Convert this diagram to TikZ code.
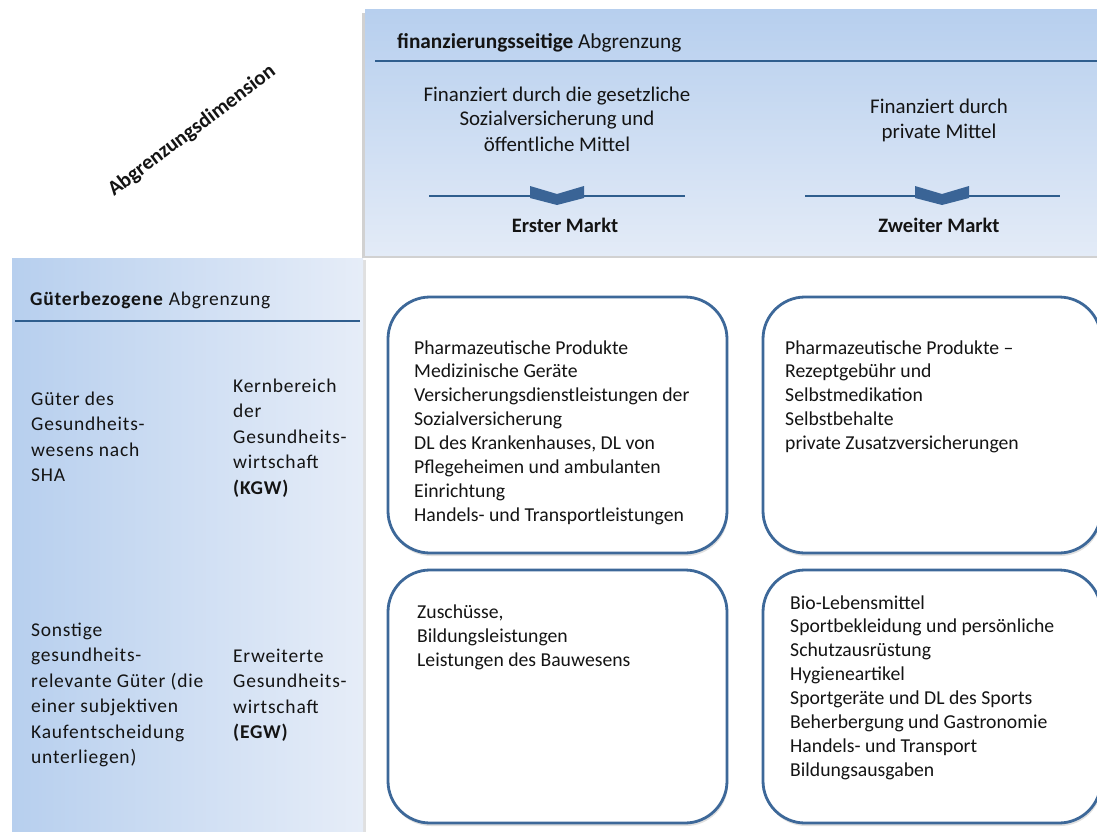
\documentclass[tikz,border=0pt]{standalone}
\usepackage{fontspec}
\setmainfont{Carlito}
\newfontfamily\widefont[LetterSpace=4]{Carlito}
\usetikzlibrary{shadows}
\definecolor{panelTop}{HTML}{B7CFEE}
\definecolor{panelBot}{HTML}{E3EBF7}
\definecolor{panelRight}{HTML}{E6EDF8}
\definecolor{lineblue}{HTML}{2F5E8E}
\definecolor{boxblue}{HTML}{3D6899}
\definecolor{chev}{HTML}{3A6496}
\definecolor{txt}{HTML}{141414}
\tikzset{
  boxtext/.style={anchor=base west, align=left, inner sep=0pt, text=txt,
    font=\fontsize{19.7}{23.9}\selectfont},
  toptext/.style={anchor=base, align=center, inner sep=0pt, text=txt,
    font=\fontsize{20.9}{25}\selectfont},
  lefttext/.style={anchor=base west, align=left, inner sep=0pt, text=txt,
    font=\widefont\fontsize{19.5}{25.5}\selectfont},
  roundbox/.style={draw=boxblue, line width=2.8pt, fill=white, rounded corners=42pt,
    drop shadow={shadow xshift=1pt, shadow yshift=-3pt, opacity=0.25}},
  hline/.style={draw=lineblue, line width=2pt},
  chevron/.style={fill=chev}
}
\begin{document}
\begin{tikzpicture}[x=1pt,y=-1pt]
\useasboundingbox (0,0) rectangle (1097,832);
\clip (0,0) rectangle (1097,832);
\fill[white] (0,0) rectangle (1097,832);

% top panel
\fill[black!18] (362,13) rectangle (1110,258);
\shade[top color=panelTop, bottom color=panelBot] (365,10) rectangle (1110,255);
\draw[hline] (375,61) -- (1110,61);
\node[anchor=base west, inner sep=0pt, text=txt, font=\fontsize{21.3}{24}\selectfont] (fhead) at (397,49) {\textbf{finanzierungsseitige} Abgrenzung};
\node[toptext] (fin1) at (557,151) {Finanziert durch die gesetzliche\\Sozialversicherung und\\öffentliche Mittel};
\node[toptext] (fin2) at (939,139) {Finanziert durch\\private Mittel};
\draw[lineblue, line width=1.2pt] (429,196) -- (685,196);
\draw[lineblue, line width=1.2pt] (805,196) -- (1060,196);
\fill[chevron] (530,186) -- (557,194) -- (584,186) -- (584,198) -- (557,205) -- (530,198) -- cycle;
\fill[chevron] (915,186) -- (942,194) -- (969,186) -- (969,198) -- (942,205) -- (915,198) -- cycle;
\node[toptext, font=\bfseries\fontsize{20.5}{25}\selectfont] (m1) at (565,232) {Erster Markt};
\node[toptext, font=\bfseries\fontsize{20.5}{25}\selectfont] (m2) at (939,232) {Zweiter Markt};

% diagonal label
\node[rotate=37, inner sep=0pt, text=txt, font=\bfseries\fontsize{21}{24}\selectfont] (dim) at (192,131) {Abgrenzungsdimension};

% left panel
\fill[black!12] (14,260) rectangle (366,840);
\shade[left color=panelTop, right color=panelRight] (12,258) rectangle (363,840);
\draw[hline] (15,321) -- (360,321);
\node[lefttext] (ghead) at (30,305) {\textbf{Güterbezogene} Abgrenzung};
\node[lefttext] (g1) at (31,481.5) {Güter des\\Gesundheits-\\wesens nach\\SHA};
\node[lefttext] (k1) at (233,494) {Kernbereich\\der\\Gesundheits-\\wirtschaft\\\textbf{(KGW)}};
\node[lefttext] (g2) at (31,763.5) {Sonstige\\gesundheits-\\relevante Güter (die\\einer subjektiven\\Kaufentscheidung\\unterliegen)};
\node[lefttext] (k2) at (233,738.5) {Erweiterte\\Gesundheits-\\wirtschaft\\\textbf{(EGW)}};

% boxes
\draw[roundbox] (388,297) rectangle (727,553);
\draw[roundbox] (763,297) rectangle (1101,553);
\draw[roundbox] (388,570) rectangle (727,823);
\draw[roundbox] (763,570) rectangle (1101,823);

\node[boxtext] (b1) at (414,521.3) {Pharmazeutische Produkte\\Medizinische Geräte\\Versicherungsdienstleistungen der\\Sozialversicherung\\DL des Krankenhauses, DL von\\Pflegeheimen und ambulanten\\Einrichtung\\Handels- und Transportleistungen};
\node[boxtext] (b2) at (785,449.6) {Pharmazeutische Produkte --\\Rezeptgebühr und\\Selbstmedikation\\Selbstbehalte\\private Zusatzversicherungen};
\node[boxtext] (b3) at (417,666) {Zuschüsse,\\Bildungsleistungen\\Leistungen des Bauwesens};
\node[boxtext] (b4) at (790,776.3) {Bio-Lebensmittel\\Sportbekleidung und persönliche\\Schutzausrüstung\\Hygieneartikel\\Sportgeräte und DL des Sports\\Beherbergung und Gastronomie\\Handels- und Transport\\Bildungsausgaben};
\end{tikzpicture}
\end{document}
